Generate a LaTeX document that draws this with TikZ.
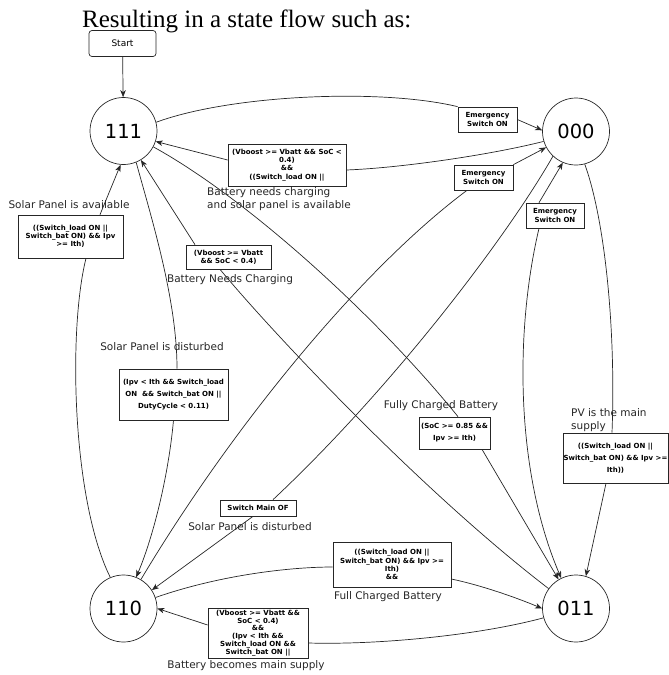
\documentclass[tikz,border=0pt]{standalone}
\usepackage{fontspec}
\setmainfont{DejaVu Sans}
\newfontfamily\titlefont{Liberation Serif}
\usetikzlibrary{arrows.meta}
\begin{document}
\begin{tikzpicture}[x=1pt,y=-1pt,
  state/.style={circle, draw=black!85, line width=0.7pt, minimum size=67pt, inner sep=0pt, font=\fontsize{19.5}{20}\selectfont},
  startbox/.style={rectangle, rounded corners=3pt, draw=black!85, line width=0.7pt, minimum width=67pt, minimum height=26pt, inner sep=0pt, font=\fontsize{9}{10}\selectfont},
  cond/.style={rectangle, draw=black!85, fill=white, line width=0.7pt, inner sep=0pt, align=center, font=\bfseries\fontsize{7}{8.2}\selectfont},
  condwide/.style={cond, font=\bfseries\fontsize{7}{12}\selectfont},
  lbl/.style={inner sep=0pt, font=\fontsize{10.5}{12.5}\selectfont, text=black!85},
  edge/.style={line width=0.7pt, draw=black!85},
  arr/.style={-{Stealth[length=7pt,width=5.5pt,inset=2pt]}}
]
\useasboundingbox (0,0) rectangle (669,675);

% title
\node[anchor=base west, inner sep=0pt, font=\titlefont\fontsize{25}{30}\selectfont] (title) at (82,27) {Resulting in a state flow such as:};

% states
\node[startbox] (start) at (122.5,43.5) {Start};
\node[state] (n111) at (123.5,131) {111};
\node[state] (n000) at (576,131.5) {000};
\node[state] (n110) at (123.5,608.5) {110};
\node[state] (n011) at (576,608.5) {011};

% condition boxes
\node[cond, minimum width=59pt, minimum height=25pt] (E1) at (487.5,119.5) {Emergency\\Switch ON};
\node[cond, minimum width=59pt, minimum height=25pt] (E2) at (483.5,177.5) {Emergency\\Switch ON};
\node[cond, minimum width=58pt, minimum height=25pt] (E3) at (555,215.5) {Emergency\\Switch ON};
\node[cond, minimum width=118pt, minimum height=42pt] (V1) at (287,165) {(Vboost >= Vbatt \&\& SoC <\\0.4)\\\&\&\\((Switch\_load ON ||};
\node[cond, minimum width=105pt, minimum height=43pt] (S1) at (70.5,236.5) {((Switch\_load ON ||\\Switch\_bat ON) \&\& Ipv\\>= Ith)};
\node[cond, minimum width=85pt, minimum height=24pt] (V2) at (228.5,257) {(Vboost >= Vbatt\\\&\& SoC < 0.4)};
\node[condwide, minimum width=109pt, minimum height=51pt] (I1) at (173.5,394.5) {(Ipv < Ith \&\& Switch\_load\\ON \ \&\& Switch\_bat ON ||\\DutyCycle < 0.11)};
\node[condwide, minimum width=71pt, minimum height=32pt] (SoC) at (454.5,433) {(SoC >= 0.85 \&\&\\Ipv >= Ith)};
\node[condwide, minimum width=105pt, minimum height=50pt] (PV) at (615.5,458) {((Switch\_load ON ||\\Switch\_bat ON) \&\& Ipv >=\\Ith))};
\node[cond, minimum width=76pt, minimum height=16pt] (SM) at (258,508) {Switch Main OF};
\node[cond, minimum width=118pt, minimum height=45pt] (F) at (392,564.5) {((Switch\_load ON ||\\Switch\_bat ON) \&\& Ipv >=\\Ith)\\\&\&};
\node[cond, minimum width=100pt, minimum height=50pt, font=\bfseries\fontsize{7}{7.8}\selectfont] (B) at (258,633) {(Vboost >= Vbatt \&\&\\SoC < 0.4)\\\&\&\\(Ipv < Ith \&\&\\Switch\_load ON \&\&\\Switch\_bat ON ||};

% labels
\node[lbl] (lSPA) at (69,205) {Solar Panel is available};
\node[lbl, anchor=west, align=left] (lBNC2) at (207,199) {Battery needs charging\\and solar panel is available};
\node[lbl] (lBNC) at (230,280) {Battery Needs Charging};
\node[lbl] (lSPD1) at (162,347) {Solar Panel is disturbed};
\node[lbl] (lFCB) at (441,406) {Fully Charged Battery};
\node[lbl, anchor=west, align=left] (lPV) at (571,420) {PV is the main\\supply};
\node[lbl] (lSPD2) at (250,527) {Solar Panel is disturbed};
\node[lbl] (lFull) at (388,597) {Full Charged Battery};
\node[lbl] (lBB) at (246,666) {Battery becomes main supply};

% connectors
\draw[edge,arr] (start) -- (n111);

% 111 -> 000 (Emergency)
\draw[edge] (n111.15) .. controls (230,95) and (380,88) .. (E1.north west);
\draw[edge,arr] (E1.east) -- (n000.178);

% 000 -> 111 (battery needs charging, solar available)
\draw[edge] (n000.197) .. controls (490,155) and (400,168) .. ([yshift=-5pt]V1.east);
\draw[edge,arr] ([yshift=5pt]V1.west) -- (n111.-18);

% 110 -> 111 (solar panel available)
\draw[edge] (n110.113) .. controls (72,500) and (68,330) .. ([xshift=15.5pt]S1.south);
\draw[edge,arr] ([xshift=29.5pt]S1.north) -- (n111.-95);

% 111 -> 110 (solar panel disturbed)
\draw[edge] (n111.-68) .. controls (152,220) and (177,300) .. ([xshift=3.5pt]I1.north);
\draw[edge,arr] (I1.south) .. controls (168,480) and (152,540) .. (n110.68);

% 011 -> 111 (battery needs charging)
\draw[edge,arr] ([xshift=-33.5pt]V2.north) -- (n111.-59);
\draw[edge] (n011.144) .. controls (420,490) and (270,330) .. ([xshift=-8.5pt]V2.south);

% 111 -> 011 (fully charged)
\draw[edge] (n111.-28) .. controls (250,200) and (380,320) .. ([xshift=3.5pt]SoC.north);
\draw[edge,arr] ([xshift=27.5pt]SoC.south) -- (n011.121);

% 000 -> 110 (switch main off)
\draw[edge] (n000.227) .. controls (505,240) and (390,390) .. ([xshift=15pt]SM.north);
\draw[edge,arr] ([xshift=-5pt]SM.south) -- (n110.33);

% 110 -> 000 (emergency)
\draw[edge] (n110.59) .. controls (230,430) and (360,270) .. ([xshift=-16.5pt]E2.south);
\draw[edge,arr] (E2.north east) -- (n000.208);

% 011 <-> 000 (emergency)
\draw[edge,arr] ([xshift=-16pt]E3.north) -- (n000.247);
\draw[edge,arr] ([xshift=-16pt]E3.south) .. controls (515,330) and (515,470) .. (n011.116);

% 000 -> 011 (PV main supply)
\draw[edge] (n000.285) .. controls (605,220) and (616,330) .. ([xshift=-3.5pt]PV.north);
\draw[edge,arr] ([xshift=-9.5pt]PV.south) -- (n011.73);

% 110 -> 011 (full charged battery)
\draw[edge] (n110.19) .. controls (220,575) and (290,567) .. ([yshift=-2.5pt]F.west);
\draw[edge,arr] ([yshift=-14.5pt]F.east) .. controls (480,585) and (515,597) .. (n011.180);

% 011 -> 110 (battery becomes main supply)
\draw[edge] (n011.196) .. controls (480,635) and (380,645) .. ([yshift=-10pt]B.east);
\draw[edge,arr] ([yshift=8pt]B.west) -- (n110.0);
\end{tikzpicture}
\end{document}
